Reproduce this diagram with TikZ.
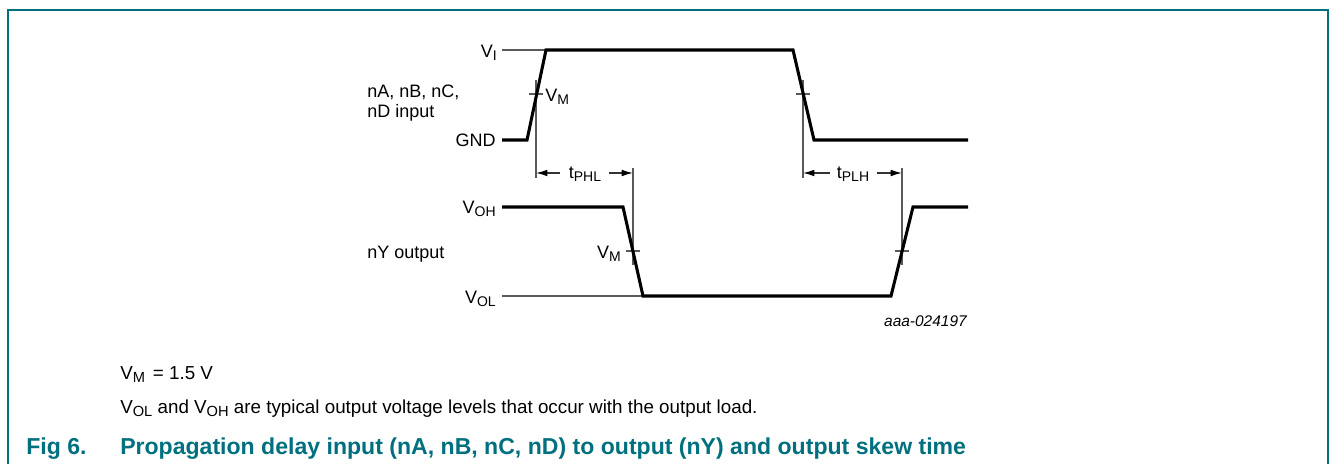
\documentclass[tikz,border=0pt]{standalone}
\usepackage{fontspec}
\setmainfont{Liberation Sans}
\usetikzlibrary{arrows.meta}
\definecolor{tealf}{RGB}{0,112,127}
\definecolor{thingray}{RGB}{90,90,90}
\newcommand{\sbs}[1]{\raisebox{-2.6pt}{\fontsize{10.5}{10.5}\selectfont #1}}
\newcommand{\sbn}[1]{\raisebox{-2.8pt}{\fontsize{11}{11}\selectfont #1}}
\begin{document}
\begin{tikzpicture}[x=0.75pt,y=-0.75pt,
  wave/.style={line width=2.3pt, line join=miter},
  guide/.style={line width=0.9pt, draw=thingray},
  lbl/.style={inner sep=0pt, font=\fontsize{13.5}{15}\selectfont},
  note/.style={inner sep=0pt, anchor=base west, font=\fontsize{14.1}{16}\selectfont},
  capt/.style={inner sep=0pt, anchor=base west, text=tealf, font=\fontsize{17.3}{19}\selectfont\bfseries},
  dimarrow/.style={line width=0.9pt, draw=black!80, -{Latex[length=8.5pt,width=5pt,fill=black,color=black]}},
]
\useasboundingbox (0,0) rectangle (1330,464);
\draw[tealf, line width=1.5pt] (7.5,464) -- (7.5,9.5) -- (1328,9.5) -- (1328,464);

% waveform corners
\coordinate (i0) at (502,140); \coordinate (i1) at (527,140);
\coordinate (i2) at (546,50);  \coordinate (i3) at (793,50);
\coordinate (i4) at (814,140); \coordinate (i5) at (968,140);
\coordinate (o0) at (502,207); \coordinate (o1) at (623,207);
\coordinate (o2) at (643,296); \coordinate (o3) at (891,296);
\coordinate (o4) at (913,207); \coordinate (o5) at (968,207);
\coordinate (vi) at (502,50);  \coordinate (vol) at (502,296);

% guide lines
\draw[guide] (vi) -- (i2);
\draw[guide] (vol) -- (o2);
% V_M vertical markers
\coordinate (m1t) at (536,80);  \coordinate (m1b) at (536,178);
\coordinate (m2t) at (803,80);  \coordinate (m2b) at (803,178);
\coordinate (m3t) at (633,168); \coordinate (m3b) at (633,265);
\coordinate (m4t) at (902,168); \coordinate (m4b) at (902,265);
\draw[guide] (m1t) -- (m1b);
\draw[guide] (m2t) -- (m2b);
\draw[guide] (m3t) -- (m3b);
\draw[guide] (m4t) -- (m4b);
% ticks
\draw[guide] (529,94) -- (543,94);
\draw[guide] (796,94) -- (810,94);
\draw[guide] (626,251) -- (640,251);
\draw[guide] (895,251) -- (909,251);

% waveforms
\draw[wave] (i0) -- (i1) -- (i2) -- (i3) -- (i4) -- (i5);
\draw[wave] (o0) -- (o1) -- (o2) -- (o3) -- (o4) -- (o5);

% delay arrows
\node[lbl, anchor=base] (tphl) at (585,178) {t\sbs{PHL}};
\node[lbl, anchor=base] (tplh) at (853,178) {t\sbs{PLH}};
\coordinate (a1) at (560,173); \coordinate (a2) at (609,173);
\coordinate (a3) at (830,173); \coordinate (a4) at (877,173);
\draw[dimarrow] (a1) -- (m1b |- a1);
\draw[dimarrow] (a2) -- (m3t |- a2);
\draw[dimarrow] (a3) -- (m2b |- a3);
\draw[dimarrow] (a4) -- (m4t |- a4);

% level labels
\node[lbl, anchor=base east] (lvi) at (497,57) {V\sbs{I}};
\node[lbl, anchor=base east] (lgnd) at (496,146) {GND};
\node[lbl, anchor=base east] (lvoh) at (496,213) {V\sbs{OH}};
\node[lbl, anchor=base east] (lvol) at (496,303) {V\sbs{OL}};
\node[lbl, anchor=base west] (lvm1) at (545,101) {V\sbs{M}};
\node[lbl, anchor=base east] (lvm2) at (621,258) {V\sbs{M}};
\node[lbl, anchor=base west] (lin) at (367,97) {nA, nB, nC,};
\node[lbl, anchor=base west] (lin2) at (367,117) {nD input};
\node[lbl, anchor=base west] (lout) at (367,258) {nY output};
\node[inner sep=0pt, anchor=base east, font=\fontsize{11.6}{13}\selectfont\itshape] (code) at (967,326) {aaa-024197};

% notes and caption
\node[note] (n1) at (120,379) {V\sbn{M}\hspace{2pt} = 1.5 V};
\node[note] (n2) at (120,413) {V\sbn{OL} and V\sbn{OH} are typical output voltage levels that occur with the output load.};
\node[capt] (fig) at (26,454) {Fig 6.};
\node[capt] (cap) at (120,454) {Propagation delay input (nA, nB, nC, nD) to output (nY) and output skew time};
\end{tikzpicture}
\end{document}
